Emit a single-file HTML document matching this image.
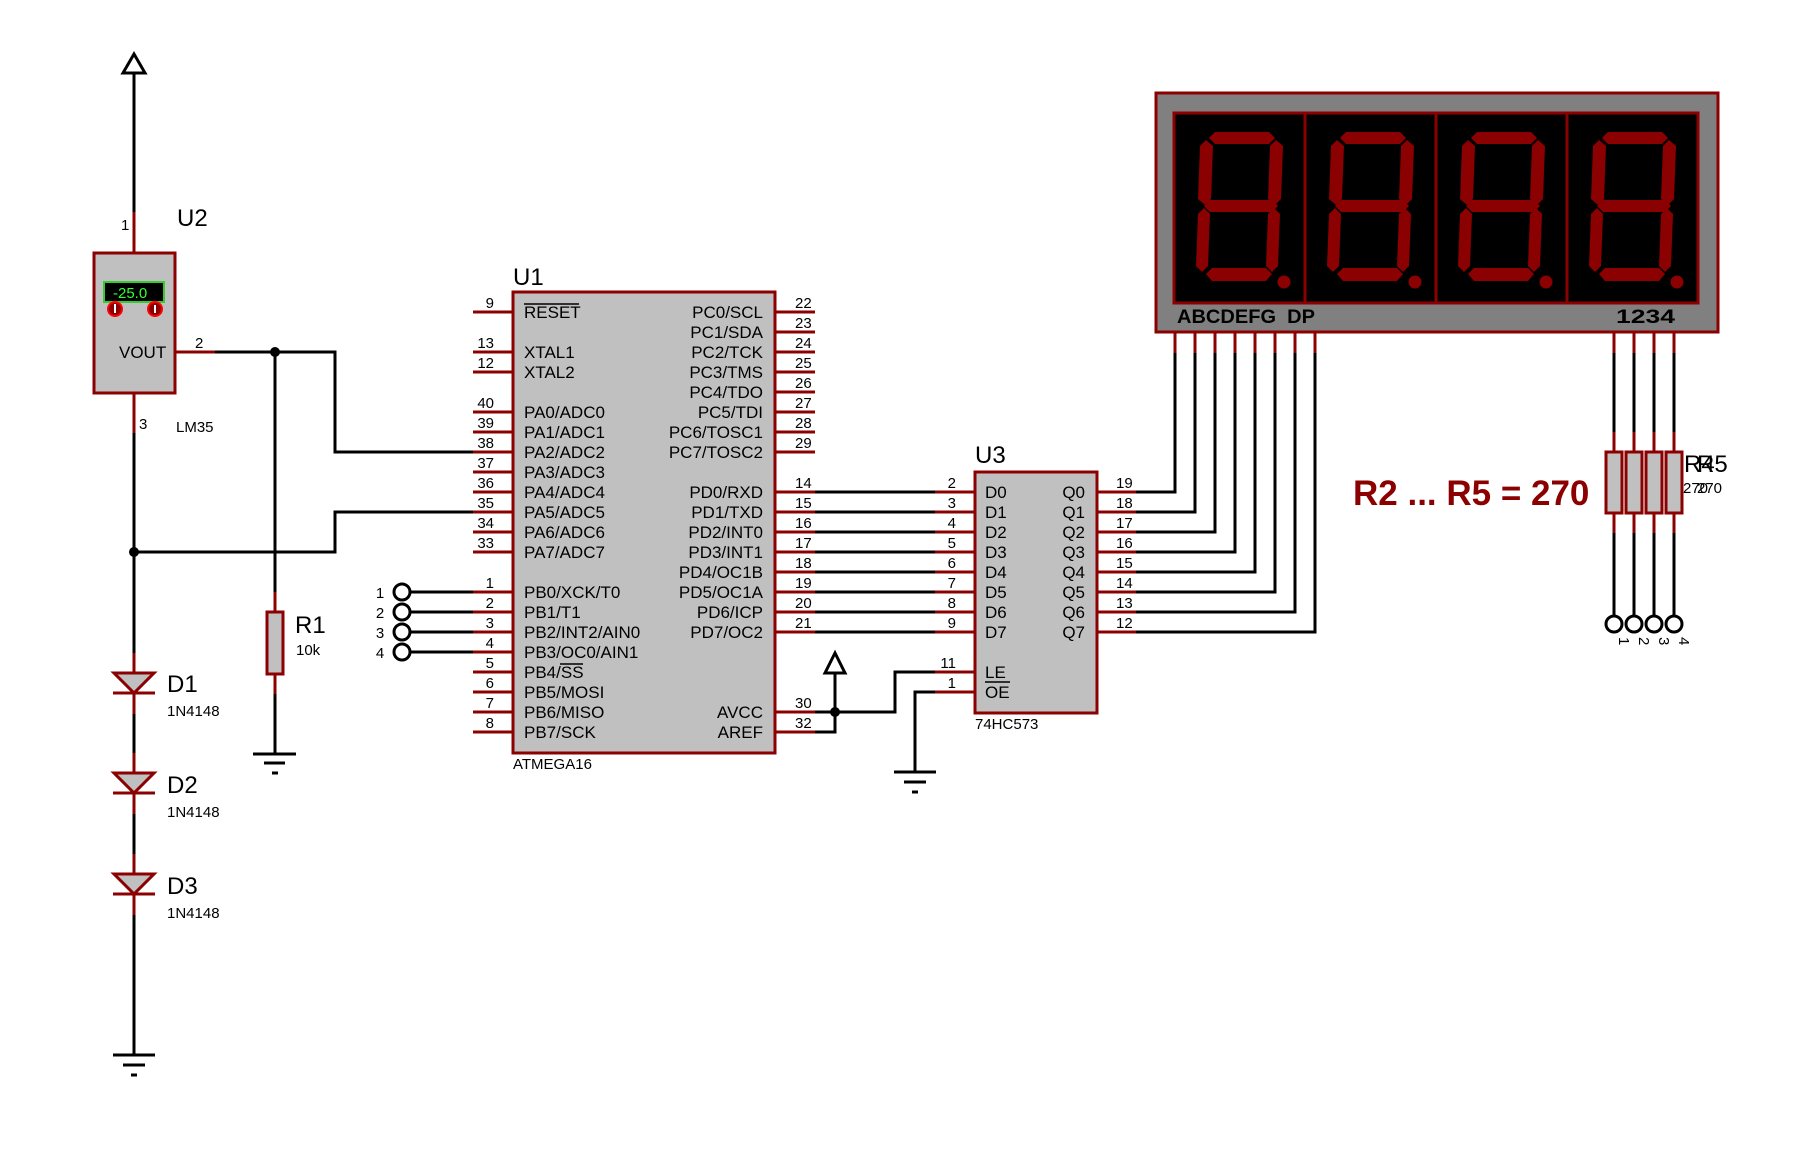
<!DOCTYPE html>
<html><head><meta charset="utf-8"><style>
html,body{margin:0;padding:0;background:#fff;}
svg{display:block;}
text{font-family:"Liberation Sans",Arial,sans-serif;fill:#000;}
.w{stroke:#000;stroke-width:3;fill:none;}
.p{stroke:#8b0000;stroke-width:3;fill:none;}
.n{font-size:15px;}
.l{font-size:17px;}
.big{font-size:24px;}
.seg{fill:#8b0000;}
</style></head><body>
<svg width="1813" height="1157" viewBox="0 0 1813 1157" xmlns="http://www.w3.org/2000/svg">
<!-- U2 LM35 -->
<polyline class="w" points="134,73 134,212"/>
<polygon points="134,54 123,73 145,73" fill="#fff" stroke="#000" stroke-width="3"/>
<line class="p" x1="134" y1="212" x2="134" y2="252"/>
<text class="n" x="121" y="230">1</text>
<text class="big" x="177" y="226">U2</text>
<rect x="94" y="253" width="81" height="140" fill="#c0c0c0" stroke="#8b0000" stroke-width="3"/>
<rect x="104" y="282" width="60" height="20" fill="#000" stroke="#3c3" stroke-width="2"/>
<text x="113" y="298" style="font-size:15px;fill:#3f3">-25.0</text>
<circle cx="115" cy="309" r="7" fill="#8b0000" stroke="#f00" stroke-width="2"/>
<circle cx="155" cy="309" r="7" fill="#8b0000" stroke="#f00" stroke-width="2"/>
<line x1="115" y1="304" x2="115" y2="313" stroke="#fff" stroke-width="2"/>
<line x1="155" y1="305" x2="155" y2="313" stroke="#fff" stroke-width="2"/>
<text class="l" x="119" y="358">VOUT</text>
<line class="p" x1="175" y1="352" x2="215" y2="352"/>
<text class="n" x="195" y="348">2</text>
<line class="p" x1="134" y1="393" x2="134" y2="433"/>
<text class="n" x="139" y="429">3</text>
<text class="n" x="176" y="432">LM35</text>
<polyline class="w" points="215,352 335,352 335,452 473,452"/>
<polyline class="w" points="134,433 134,653"/>
<polyline class="w" points="134,552 335,552 335,512 473,512"/>
<circle cx="275" cy="352" r="5"/>
<circle cx="134" cy="552" r="5"/>
<!-- R1 -->
<polyline class="w" points="275,352 275,592"/>
<line class="p" x1="275" y1="592" x2="275" y2="612"/>
<rect x="267" y="612" width="16" height="62" fill="#c0c0c0" stroke="#8b0000" stroke-width="3"/>
<line class="p" x1="275" y1="674" x2="275" y2="694"/>
<polyline class="w" points="275,694 275,754"/>
<line class="w" x1="253" y1="754" x2="296" y2="754"/>
<line class="w" x1="264" y1="763" x2="285" y2="763"/>
<line class="w" x1="272" y1="773" x2="278" y2="773"/>
<text class="big" x="295" y="633">R1</text>
<text class="n" x="296" y="655">10k</text>
<!-- Diodes -->
<g id="dio">
<line class="p" x1="134" y1="653" x2="134" y2="714"/>
<polygon points="114,673 154,673 134,693" fill="#c0c0c0" stroke="#8b0000" stroke-width="3"/>
<line class="p" x1="113" y1="693" x2="155" y2="693"/>
</g>
<use href="#dio" y="100"/>
<use href="#dio" y="201"/>
<polyline class="w" points="134,714 134,753"/>
<polyline class="w" points="134,814 134,854"/>
<polyline class="w" points="134,915 134,1055"/>
<text class="big" x="167" y="692">D1</text><text class="n" x="167" y="716">1N4148</text>
<text class="big" x="167" y="793">D2</text><text class="n" x="167" y="817">1N4148</text>
<text class="big" x="167" y="894">D3</text><text class="n" x="167" y="918">1N4148</text>
<line class="w" x1="113" y1="1055" x2="155" y2="1055"/>
<line class="w" x1="123" y1="1065" x2="145" y2="1065"/>
<line class="w" x1="131" y1="1075" x2="137" y2="1075"/>
<!-- connector 1-4 -->
<g fill="#fff" stroke="#000" stroke-width="3">
<circle cx="402" cy="592" r="8"/><circle cx="402" cy="612" r="8"/><circle cx="402" cy="632" r="8"/><circle cx="402" cy="652" r="8"/>
</g>
<polyline class="w" points="410,592 473,592"/><polyline class="w" points="410,612 473,612"/>
<polyline class="w" points="410,632 473,632"/><polyline class="w" points="410,652 473,652"/>
<g class="n" text-anchor="middle"><text x="380" y="598" class="n">1</text><text x="380" y="618" class="n">2</text><text x="380" y="638" class="n">3</text><text x="380" y="658" class="n">4</text></g>
<!-- U1 -->
<text class="big" x="513" y="285">U1</text>
<rect x="513" y="292" width="262" height="461" fill="#c0c0c0" stroke="#8b0000" stroke-width="3"/>
<text class="n" x="513" y="769">ATMEGA16</text>
<g class="p">
<line x1="473" y1="312" x2="513" y2="312"/><line x1="473" y1="352" x2="513" y2="352"/><line x1="473" y1="372" x2="513" y2="372"/>
<line x1="473" y1="412" x2="513" y2="412"/><line x1="473" y1="432" x2="513" y2="432"/><line x1="473" y1="452" x2="513" y2="452"/><line x1="473" y1="472" x2="513" y2="472"/>
<line x1="473" y1="492" x2="513" y2="492"/><line x1="473" y1="512" x2="513" y2="512"/><line x1="473" y1="532" x2="513" y2="532"/><line x1="473" y1="552" x2="513" y2="552"/>
<line x1="473" y1="592" x2="513" y2="592"/><line x1="473" y1="612" x2="513" y2="612"/><line x1="473" y1="632" x2="513" y2="632"/><line x1="473" y1="652" x2="513" y2="652"/>
<line x1="473" y1="672" x2="513" y2="672"/><line x1="473" y1="692" x2="513" y2="692"/><line x1="473" y1="712" x2="513" y2="712"/><line x1="473" y1="732" x2="513" y2="732"/>
<line x1="775" y1="312" x2="815" y2="312"/><line x1="775" y1="332" x2="815" y2="332"/><line x1="775" y1="352" x2="815" y2="352"/><line x1="775" y1="372" x2="815" y2="372"/>
<line x1="775" y1="392" x2="815" y2="392"/><line x1="775" y1="412" x2="815" y2="412"/><line x1="775" y1="432" x2="815" y2="432"/><line x1="775" y1="452" x2="815" y2="452"/>
<line x1="775" y1="492" x2="815" y2="492"/><line x1="775" y1="512" x2="815" y2="512"/><line x1="775" y1="532" x2="815" y2="532"/><line x1="775" y1="552" x2="815" y2="552"/>
<line x1="775" y1="572" x2="815" y2="572"/><line x1="775" y1="592" x2="815" y2="592"/><line x1="775" y1="612" x2="815" y2="612"/><line x1="775" y1="632" x2="815" y2="632"/>
<line x1="775" y1="712" x2="815" y2="712"/><line x1="775" y1="732" x2="815" y2="732"/>
</g>
<g class="n" text-anchor="end">
<text x="494" y="308">9</text><text x="494" y="348">13</text><text x="494" y="368">12</text>
<text x="494" y="408">40</text><text x="494" y="428">39</text><text x="494" y="448">38</text><text x="494" y="468">37</text>
<text x="494" y="488">36</text><text x="494" y="508">35</text><text x="494" y="528">34</text><text x="494" y="548">33</text>
<text x="494" y="588">1</text><text x="494" y="608">2</text><text x="494" y="628">3</text><text x="494" y="648">4</text>
<text x="494" y="668">5</text><text x="494" y="688">6</text><text x="494" y="708">7</text><text x="494" y="728">8</text>
</g>
<g class="n">
<text x="795" y="308">22</text><text x="795" y="328">23</text><text x="795" y="348">24</text><text x="795" y="368">25</text>
<text x="795" y="388">26</text><text x="795" y="408">27</text><text x="795" y="428">28</text><text x="795" y="448">29</text>
<text x="795" y="488">14</text><text x="795" y="508">15</text><text x="795" y="528">16</text><text x="795" y="548">17</text>
<text x="795" y="568">18</text><text x="795" y="588">19</text><text x="795" y="608">20</text><text x="795" y="628">21</text>
<text x="795" y="708">30</text><text x="795" y="728">32</text>
</g>
<g class="l">
<text x="524" y="318">RESET</text><line x1="524" y1="304" x2="579" y2="304" stroke="#000" stroke-width="1.5"/>
<text x="524" y="358">XTAL1</text><text x="524" y="378">XTAL2</text>
<text x="524" y="418">PA0/ADC0</text><text x="524" y="438">PA1/ADC1</text><text x="524" y="458">PA2/ADC2</text><text x="524" y="478">PA3/ADC3</text>
<text x="524" y="498">PA4/ADC4</text><text x="524" y="518">PA5/ADC5</text><text x="524" y="538">PA6/ADC6</text><text x="524" y="558">PA7/ADC7</text>
<text x="524" y="598">PB0/XCK/T0</text><text x="524" y="618">PB1/T1</text><text x="524" y="638">PB2/INT2/AIN0</text><text x="524" y="658">PB3/OC0/AIN1</text>
<text x="524" y="678">PB4/SS</text><line x1="560" y1="664" x2="583" y2="664" stroke="#000" stroke-width="1.5"/>
<text x="524" y="698">PB5/MOSI</text><text x="524" y="718">PB6/MISO</text><text x="524" y="738">PB7/SCK</text>
</g>
<g class="l" text-anchor="end">
<text x="763" y="318">PC0/SCL</text><text x="763" y="338">PC1/SDA</text><text x="763" y="358">PC2/TCK</text><text x="763" y="378">PC3/TMS</text>
<text x="763" y="398">PC4/TDO</text><text x="763" y="418">PC5/TDI</text><text x="763" y="438">PC6/TOSC1</text><text x="763" y="458">PC7/TOSC2</text>
<text x="763" y="498">PD0/RXD</text><text x="763" y="518">PD1/TXD</text><text x="763" y="538">PD2/INT0</text><text x="763" y="558">PD3/INT1</text>
<text x="763" y="578">PD4/OC1B</text><text x="763" y="598">PD5/OC1A</text><text x="763" y="618">PD6/ICP</text><text x="763" y="638">PD7/OC2</text>
<text x="763" y="718">AVCC</text><text x="763" y="738">AREF</text>
</g>
<!-- PD bus -->
<g class="w">
<line x1="815" y1="492" x2="935" y2="492"/><line x1="815" y1="512" x2="935" y2="512"/><line x1="815" y1="532" x2="935" y2="532"/><line x1="815" y1="552" x2="935" y2="552"/>
<line x1="815" y1="572" x2="935" y2="572"/><line x1="815" y1="592" x2="935" y2="592"/><line x1="815" y1="612" x2="935" y2="612"/><line x1="815" y1="632" x2="935" y2="632"/>
<polyline points="815,712 895,712 895,672 935,672"/>
<polyline points="815,732 835,732 835,673"/>
<polyline points="935,692 915,692 915,772"/>
<line x1="894" y1="772" x2="936" y2="772"/><line x1="904" y1="782" x2="926" y2="782"/><line x1="912" y1="792" x2="918" y2="792"/>
</g>
<polygon points="835,653 825,673 845,673" fill="#fff" stroke="#000" stroke-width="3"/>
<circle cx="835" cy="712" r="5"/>
<!-- U3 -->
<text class="big" x="975" y="463">U3</text>
<rect x="975" y="472" width="122" height="241" fill="#c0c0c0" stroke="#8b0000" stroke-width="3"/>
<text class="n" x="975" y="729">74HC573</text>
<g class="p">
<line x1="935" y1="492" x2="975" y2="492"/><line x1="935" y1="512" x2="975" y2="512"/><line x1="935" y1="532" x2="975" y2="532"/><line x1="935" y1="552" x2="975" y2="552"/>
<line x1="935" y1="572" x2="975" y2="572"/><line x1="935" y1="592" x2="975" y2="592"/><line x1="935" y1="612" x2="975" y2="612"/><line x1="935" y1="632" x2="975" y2="632"/>
<line x1="935" y1="672" x2="975" y2="672"/><line x1="935" y1="692" x2="975" y2="692"/>
<line x1="1097" y1="492" x2="1136" y2="492"/><line x1="1097" y1="512" x2="1136" y2="512"/><line x1="1097" y1="532" x2="1136" y2="532"/><line x1="1097" y1="552" x2="1136" y2="552"/>
<line x1="1097" y1="572" x2="1136" y2="572"/><line x1="1097" y1="592" x2="1136" y2="592"/><line x1="1097" y1="612" x2="1136" y2="612"/><line x1="1097" y1="632" x2="1136" y2="632"/>
</g>
<g class="n" text-anchor="end">
<text x="956" y="488">2</text><text x="956" y="508">3</text><text x="956" y="528">4</text><text x="956" y="548">5</text>
<text x="956" y="568">6</text><text x="956" y="588">7</text><text x="956" y="608">8</text><text x="956" y="628">9</text>
<text x="956" y="668">11</text><text x="956" y="688">1</text>
</g>
<g class="n">
<text x="1116" y="488">19</text><text x="1116" y="508">18</text><text x="1116" y="528">17</text><text x="1116" y="548">16</text>
<text x="1116" y="568">15</text><text x="1116" y="588">14</text><text x="1116" y="608">13</text><text x="1116" y="628">12</text>
</g>
<g class="l">
<text x="985" y="498">D0</text><text x="985" y="518">D1</text><text x="985" y="538">D2</text><text x="985" y="558">D3</text>
<text x="985" y="578">D4</text><text x="985" y="598">D5</text><text x="985" y="618">D6</text><text x="985" y="638">D7</text>
<text x="985" y="678">LE</text><text x="985" y="698">OE</text>
</g>
<line x1="985" y1="682" x2="1010" y2="682" stroke="#000" stroke-width="1.5"/>
<g class="l" text-anchor="end">
<text x="1085" y="498">Q0</text><text x="1085" y="518">Q1</text><text x="1085" y="538">Q2</text><text x="1085" y="558">Q3</text>
<text x="1085" y="578">Q4</text><text x="1085" y="598">Q5</text><text x="1085" y="618">Q6</text><text x="1085" y="638">Q7</text>
</g>
<g class="w">
<polyline points="1136,492 1175,492 1175,353"/><polyline points="1136,512 1195,512 1195,353"/>
<polyline points="1136,532 1215,532 1215,353"/><polyline points="1136,552 1235,552 1235,353"/>
<polyline points="1136,572 1255,572 1255,353"/><polyline points="1136,592 1275,592 1275,353"/>
<polyline points="1136,612 1295,612 1295,353"/><polyline points="1136,632 1315,632 1315,353"/>
</g>
<!-- Display -->
<rect x="1156" y="93" width="562" height="239" fill="#808080" stroke="#8b0000" stroke-width="3"/>
<rect x="1174" y="113" width="524" height="190" fill="#000" stroke="#8b0000" stroke-width="3"/>
<g stroke="#8b0000" stroke-width="3"><line x1="1305" y1="113" x2="1305" y2="303"/><line x1="1436" y1="113" x2="1436" y2="303"/><line x1="1567" y1="113" x2="1567" y2="303"/></g>
<g id="dig" class="seg">
<polygon points="1209,138 1215,132 1269,132 1275,138 1269,144 1215,144"/>
<polygon points="1206,140 1213,146 1211,199 1205,205 1198,199 1200,146"/>
<polygon points="1276,140 1283,146 1281,199 1275,205 1268,199 1270,146"/>
<polygon points="1204,206 1210,200 1272,200 1278,206 1272,212 1210,212"/>
<polygon points="1204,208 1210,214 1208,266 1202,272 1196,266 1198,214"/>
<polygon points="1274,208 1280,214 1278,266 1272,272 1266,266 1268,214"/>
<polygon points="1206,274 1212,268 1266,268 1272,274 1266,281 1212,281"/>
<circle cx="1284" cy="282" r="6.5"/>
</g>
<use href="#dig" x="131"/><use href="#dig" x="262"/><use href="#dig" x="393"/>
<text x="1177" y="323" textLength="138" lengthAdjust="spacingAndGlyphs" style="font-size:19px;font-weight:bold">ABCDEFG&#160;&#160;DP</text>
<text x="1616" y="323" textLength="59" lengthAdjust="spacingAndGlyphs" style="font-size:19px;font-weight:bold">1234</text>
<g class="p">
<line x1="1175" y1="333" x2="1175" y2="353"/><line x1="1195" y1="333" x2="1195" y2="353"/><line x1="1215" y1="333" x2="1215" y2="353"/><line x1="1235" y1="333" x2="1235" y2="353"/>
<line x1="1255" y1="333" x2="1255" y2="353"/><line x1="1275" y1="333" x2="1275" y2="353"/><line x1="1295" y1="333" x2="1295" y2="353"/><line x1="1315" y1="333" x2="1315" y2="353"/>
<line x1="1614" y1="333" x2="1614" y2="353"/><line x1="1634" y1="333" x2="1634" y2="353"/><line x1="1654" y1="333" x2="1654" y2="353"/><line x1="1674" y1="333" x2="1674" y2="353"/>
<line x1="1614" y1="432" x2="1614" y2="452"/><line x1="1634" y1="432" x2="1634" y2="452"/><line x1="1654" y1="432" x2="1654" y2="452"/><line x1="1674" y1="432" x2="1674" y2="452"/>
<line x1="1614" y1="513" x2="1614" y2="533"/><line x1="1634" y1="513" x2="1634" y2="533"/><line x1="1654" y1="513" x2="1654" y2="533"/><line x1="1674" y1="513" x2="1674" y2="533"/>
</g>
<g class="w">
<line x1="1614" y1="353" x2="1614" y2="432"/><line x1="1634" y1="353" x2="1634" y2="432"/><line x1="1654" y1="353" x2="1654" y2="432"/><line x1="1674" y1="353" x2="1674" y2="432"/>
<line x1="1614" y1="533" x2="1614" y2="616"/><line x1="1634" y1="533" x2="1634" y2="616"/><line x1="1654" y1="533" x2="1654" y2="616"/><line x1="1674" y1="533" x2="1674" y2="616"/>
</g>
<g fill="#c0c0c0" stroke="#8b0000" stroke-width="3">
<rect x="1606" y="452" width="16" height="61"/><rect x="1626" y="452" width="16" height="61"/><rect x="1646" y="452" width="16" height="61"/><rect x="1666" y="452" width="16" height="61"/>
</g>
<g fill="#fff" stroke="#000" stroke-width="3">
<circle cx="1614" cy="624" r="8"/><circle cx="1634" cy="624" r="8"/><circle cx="1654" cy="624" r="8"/><circle cx="1674" cy="624" r="8"/>
</g>
<g class="n">
<text transform="translate(1619,637) rotate(90)">1</text><text transform="translate(1639,637) rotate(90)">2</text>
<text transform="translate(1659,637) rotate(90)">3</text><text transform="translate(1679,637) rotate(90)">4</text>
</g>
<text class="big" x="1684" y="472">R4</text><text class="big" x="1697" y="472">R5</text>
<text class="n" x="1683" y="493">270</text><text class="n" x="1697" y="493">270</text>
<text x="1353" y="505" style="font-size:35px;font-weight:bold;fill:#8b0000">R2 ... R5 = 270</text>
</svg>
</body></html>
